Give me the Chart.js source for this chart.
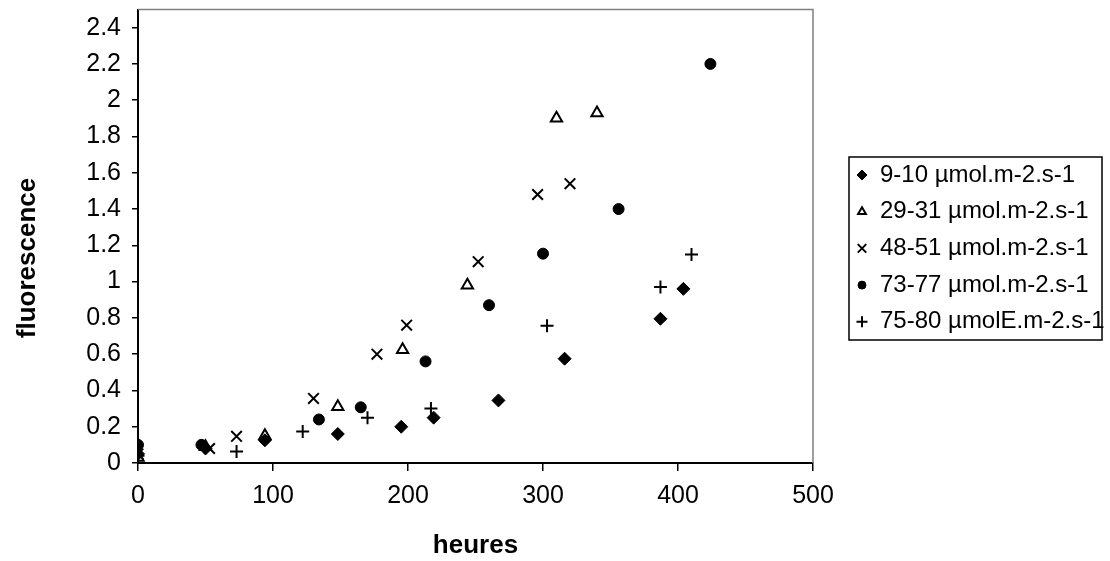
<!DOCTYPE html>
<html>
<head>
<meta charset="utf-8">
<script src="https://cdn.jsdelivr.net/npm/chart.js@4/dist/chart.umd.min.js"></script>
<style>
  html, body { margin: 0; padding: 0; background: #fff; }
  #wrap { width: 1110px; height: 561px; }
</style>
</head>
<body>
<div id="wrap"><canvas id="chart"></canvas></div>
<script>
// séries (heures, fluorescence)
const labels = ['9-10 µmol.m-2.s-1', '29-31 µmol.m-2.s-1', '48-51 µmol.m-2.s-1', '73-77 µmol.m-2.s-1', '75-80 µmolE.m-2.s-1'];

const h9 = [0, 50, 94, 148, 195, 219, 267, 316, 387, 404];
const f9 = [0.05, 0.08, 0.125, 0.16, 0.20, 0.25, 0.345, 0.575, 0.795, 0.96];

const h29 = [0, 50, 94, 148, 196, 244, 310, 340];
const f29 = [0.03, 0.09, 0.15, 0.31, 0.625, 0.98, 1.90, 1.93];

const h48 = [0, 53, 73, 130, 177, 199, 252, 296, 320];
const f48 = [0.05, 0.08, 0.147, 0.356, 0.60, 0.76, 1.11, 1.48, 1.54];

const h73 = [0, 47, 134, 165, 213, 260, 300, 356, 424];
const f73 = [0.10, 0.10, 0.24, 0.307, 0.56, 0.87, 1.154, 1.40, 2.20];

const h75 = [0, 73, 122, 170, 217, 303, 387, 410];
const f75 = [0.04, 0.064, 0.174, 0.25, 0.30, 0.757, 0.97, 1.15];

const yTicks = [0, 0.2, 0.4, 0.6, 0.8, 1, 1.2, 1.4, 1.6, 1.8, 2, 2.2, 2.4];
const yTitle = 'fluorescence';

const FONT = '"Liberation Sans", Arial, sans-serif';
Chart.defaults.font.family = FONT;
Chart.defaults.color = '#000';

function pts(xs, ys) {
  return xs.map((x, i) => ({ x: x, y: ys[i] }));
}

const styles = [
  { pointStyle: 'rectRot', radius: 6.5, bg: '#000', bw: 1, lr: 5 },
  { pointStyle: 'triangle', radius: 6.5, bg: '#fff', bw: 2, lr: 4.5 },
  { pointStyle: 'crossRot', radius: 7.5, bg: '#000', bw: 2, lr: 6 },
  { pointStyle: 'circle', radius: 5.5, bg: '#000', bw: 1, lr: 4 },
  { pointStyle: 'cross', radius: 6.5, bg: '#000', bw: 2, lr: 5.5 }
];
const series = [[h9, f9], [h29, f29], [h48, f48], [h73, f73], [h75, f75]];

const datasets = series.map((s, i) => ({
  label: labels[i],
  data: pts(s[0], s[1]),
  pointStyle: styles[i].pointStyle,
  pointRadius: styles[i].radius,
  pointBackgroundColor: styles[i].bg,
  pointBorderColor: '#000',
  pointBorderWidth: styles[i].bw,
  showLine: false
}));

// cadre gris haut/droite + titre vertical
const frame = {
  id: 'frame',
  beforeDatasetsDraw(chart) {
    const a = chart.chartArea, ctx = chart.ctx;
    ctx.save();
    ctx.strokeStyle = '#808080';
    ctx.lineWidth = 1.5;
    ctx.beginPath();
    ctx.moveTo(a.left, a.top);
    ctx.lineTo(a.right, a.top);
    ctx.lineTo(a.right, a.bottom);
    ctx.stroke();
    ctx.translate(28, 258);
    ctx.rotate(-Math.PI / 2);
    ctx.font = 'bold 26px ' + FONT;
    ctx.fillStyle = '#000';
    ctx.textAlign = 'center';
    ctx.textBaseline = 'middle';
    ctx.fillText(yTitle, 0, 0);
    ctx.restore();
  }
};

// légende encadrée à droite
const boxLegend = {
  id: 'boxLegend',
  afterDraw(chart) {
    const ctx = chart.ctx;
    const x0 = 849, y0 = 157, w = 253, h = 183, step = 36.7;
    ctx.save();
    ctx.strokeStyle = '#000';
    ctx.lineWidth = 1.5;
    ctx.strokeRect(x0, y0, w, h);
    ctx.font = '24px ' + FONT;
    ctx.textBaseline = 'middle';
    ctx.textAlign = 'left';
    chart.data.datasets.forEach((ds, i) => {
      const y = y0 + 18 + i * step;
      ctx.fillStyle = styles[i].bg;
      ctx.strokeStyle = '#000';
      ctx.lineWidth = styles[i].bw;
      Chart.helpers.drawPoint(ctx, { pointStyle: ds.pointStyle, radius: styles[i].lr, borderWidth: styles[i].bw, rotation: 0 }, 862, y);
      ctx.fillStyle = '#000';
      ctx.fillText(ds.label, 880, y);
    });
    ctx.restore();
  }
};

new Chart(document.getElementById('chart'), {
  type: 'scatter',
  data: { datasets: datasets },
  plugins: [frame, boxLegend],
  options: {
    responsive: true,
    maintainAspectRatio: false,
    animation: false,
    devicePixelRatio: 1,
    layout: { padding: { left: 0, top: 9, right: 297, bottom: 0 } },
    plugins: { legend: { display: false }, tooltip: { enabled: false } },
    scales: {
      x: {
        type: 'linear',
        min: 0,
        max: 500,
        ticks: { stepSize: 100, font: { size: 25 }, color: '#000', padding: 10, maxRotation: 0 },
        grid: { drawOnChartArea: false, drawTicks: true, tickLength: 8, color: '#000', lineWidth: 1.5 },
        border: { color: '#000', width: 2 },
        title: { display: true, text: 'heures', font: { size: 26, weight: 'bold' }, color: '#000', padding: { top: 0, bottom: 0 } },
        afterFit(s) { s.height = 98; s.paddingLeft = 0; s.paddingRight = 0; }
      },
      y: {
        type: 'linear',
        min: 0,
        max: 2.5,
        afterBuildTicks(s) { s.ticks = yTicks.map(v => ({ value: v })); },
        ticks: { font: { size: 25 }, color: '#000', padding: 11, callback: v => String(Math.round(v * 10) / 10) },
        grid: { drawOnChartArea: false, drawTicks: true, tickLength: 6, color: '#000', lineWidth: 1.5 },
        border: { color: '#000', width: 2 },
        afterFit(s) { s.width = 138; s.paddingTop = 0; s.paddingBottom = 0; }
      }
    }
  }
});
</script>
</body>
</html>
